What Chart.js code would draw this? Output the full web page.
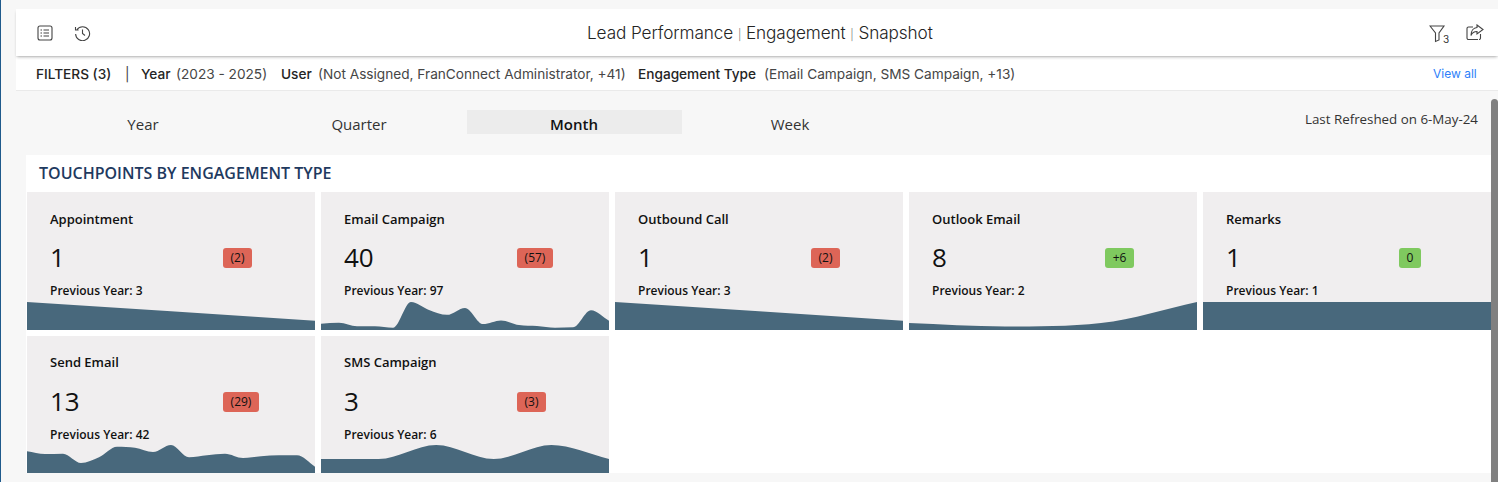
<!DOCTYPE html>
<html><head><meta charset="utf-8">
<script src="https://cdn.jsdelivr.net/npm/chart.js@4"></script>
<style>
html,body{margin:0;padding:0;width:1498px;height:482px;overflow:hidden;background:#f7f7f7;font-family:"Open Sans",sans-serif;color:#111}
.a{position:absolute;white-space:nowrap;line-height:1}
#edge{position:absolute;left:0;top:0;width:1px;height:482px;background:#1f5a8c}
#head{position:absolute;left:16px;top:9px;right:0;height:47px;background:#fff;box-shadow:0 2px 3px -1px rgba(0,0,0,.3);z-index:2}
#filt{position:absolute;left:16px;top:57px;right:0;height:33px;background:#fff;border-bottom:1px solid #eaeaea}
#tab{position:absolute;left:467px;top:110px;width:215px;height:24px;background:#ececec}
#panel{position:absolute;left:26px;top:155px;right:0;height:318px;background:#fff}
#bar{position:absolute;left:1491px;top:99px;width:7px;height:383px;background:#808080;border-radius:4px 4px 0 0;z-index:3}
.card{position:absolute;width:288px;background:#f0eeef}
.card canvas{position:absolute;left:0;display:block}
.badge{position:absolute;height:20px;border-radius:3px;font-size:12px;line-height:20px;text-align:center;color:#111}
.f{font-family:Inter,sans-serif;font-size:13.65px;top:68px;color:#444;opacity:.99}
.fb{font-weight:500;color:#222}
.tabt{font-size:15px;top:117px;color:#333;transform:translateX(-50%);font-weight:500}
svg{position:absolute;z-index:4;fill:none;stroke:#444;stroke-width:1.1}
</style></head><body>
<div id="edge"></div><div id="head"></div><div id="filt"></div><div id="tab"></div><div id="panel"></div><div id="bar"></div>
<svg style="left:37px;top:25px" width="16" height="16" viewBox="0 0 16 16"><rect x="1" y="1" width="14" height="14" rx="2"/><path d="M6.5 5H12M6.5 8H12M6.5 11H12M3.5 5H5M3.5 8H5M3.5 11H5"/></svg>
<svg style="left:74px;top:25px" width="17" height="16" viewBox="0 0 17 16"><path d="M3 4.5A7 7 0 1 1 1.6 9M1.5 2V5H4.6M8.5 4.5V8.5L11 10.5"/></svg>
<svg style="left:1429px;top:25px" width="22" height="18" viewBox="0 0 22 18"><path d="M1 1H15L10 8V15L6.500 16.500V8Z"/></svg>
<svg style="left:1466px;top:24px" width="18" height="17" viewBox="0 0 18 17"><path d="M12 15.500H2.500A1.500 1.500 0 0 1 1 14V4.500A1.500 1.500 0 0 1 2.500 3H7M14.500 10V14A1.500 1.500 0 0 1 13 15.500M11 1L17 5.500L11 10V7.500C8 7.500 6 9 5 11.500C5 7 7.500 3.800 11 3.500Z"/></svg>
<div class="a" style="left:1443px;top:34px;font-size:10px;z-index:5;color:#333;font-family:Inter,sans-serif">3</div>
<div class="a" style="left:587px;top:23.500px;font-family:Inter,sans-serif;font-weight:300;font-size:17.2px;z-index:5;color:#222;letter-spacing:-.1px;opacity:.99">Lead Performance <span style="font-size:11px;color:#777">|</span> Engagement <span style="font-size:11px;color:#777">|</span> Snapshot</div>
<div class="a f fb" style="left:36px">FILTERS (3)</div><div class="a f" style="left:125px">|</div>
<div class="a f fb" style="left:141px">Year</div><div class="a f" style="left:176px">(2023 - 2025)</div>
<div class="a f fb" style="left:281px">User</div><div class="a f" style="left:318px">(Not Assigned, FranConnect Administrator, +41)</div>
<div class="a f fb" style="left:638px">Engagement Type</div><div class="a f" style="left:764px">(Email Campaign, SMS Campaign, +13)</div>
<div class="a" style="left:1433px;top:68px;font-family:Inter,sans-serif;font-size:12px;color:#2d7ff9">View all</div>
<div class="a tabt" style="left:143px">Year</div><div class="a tabt" style="left:359px">Quarter</div>
<div class="a tabt" style="left:574px;font-weight:600;color:#111">Month</div><div class="a tabt" style="left:790px">Week</div>
<div class="a" style="right:20px;top:113px;font-size:13.35px;color:#333">Last Refreshed on 6-May-24</div>
<div class="a" style="left:39px;top:165px;font-size:16px;font-weight:600;color:#1f3a5f">TOUCHPOINTS BY ENGAGEMENT TYPE</div>
<script>
const names=["Appointment","Email Campaign","Outbound Call","Outlook Email","Remarks","Send Email","SMS Campaign"];
const currentValues=[1,40,1,8,1,13,3];
const previousValues=[3,97,3,2,1,42,6];
const changes=["(2)","(57)","(2)","+6","0","(29)","(3)"];
const badgeWidths=[29,36,29,29,22,36,29];
const appointment=[3,1];
const emailCampaign=[6.3,7.3,3.7,3.7,2.3,28.3,20.3,15.3,22.3,6,9.7,5,4,2.3,2.7,20,9.3];
const outboundCall=[3,1];
const outlookEmail=[2,1,2,8];
const remarks=[1,1];
const sendEmail=[21.7,19,19.3,10,15.7,26.3,25.3,21,28,15.7,17.7,19.3,15,16.7,17.7,17.7,6.3];
const smsCampaign=[1,1,2,1,2,1];
const seriesList=[appointment,emailCampaign,outboundCall,outlookEmail,remarks,sendEmail,smsCampaign];
const areaColor="#48687c";
names.forEach((n,i)=>{
  const x=27+294*(i%5), row=i<5?0:1, y=row?336:192, h=row?137:138;
  const c=document.createElement('div');c.className='card';
  c.style.cssText=`left:${x}px;top:${y}px;height:${h}px`;
  const up=changes[i][0]!=='(';
  c.innerHTML=`<div class="a" style="left:23px;top:${row?20:21}px;font-size:13px;font-weight:600">${n}</div>
  <div class="a" style="left:23px;top:52px;font-size:26px">${currentValues[i]}</div>
  <div class="badge" style="left:196px;top:56px;width:${badgeWidths[i]}px;background:${up?'#7fc95f':'#dd6557'}">${changes[i]}</div>
  <div class="a" style="left:23px;top:93px;font-size:12px;font-weight:600">Previous Year: ${previousValues[i]}</div>
  <canvas width="288" height="28" style="top:${h-28}px;width:288px;height:28px"></canvas>`;
  document.body.appendChild(c);
  const d=seriesList[i];
  new Chart(c.querySelector('canvas'),{type:'line',
    data:{labels:d.map((_,k)=>k),datasets:[{data:d,fill:'origin',backgroundColor:areaColor,borderWidth:0,pointRadius:0,cubicInterpolationMode:'monotone'}]},
    options:{responsive:false,animation:false,devicePixelRatio:1,events:[],
      layout:{padding:0},
      plugins:{legend:{display:false},tooltip:{enabled:false}},
      scales:{x:{display:false,offset:false},y:{display:false,min:0,max:Math.max(...d)}}}});
});
</script>
</body></html>
